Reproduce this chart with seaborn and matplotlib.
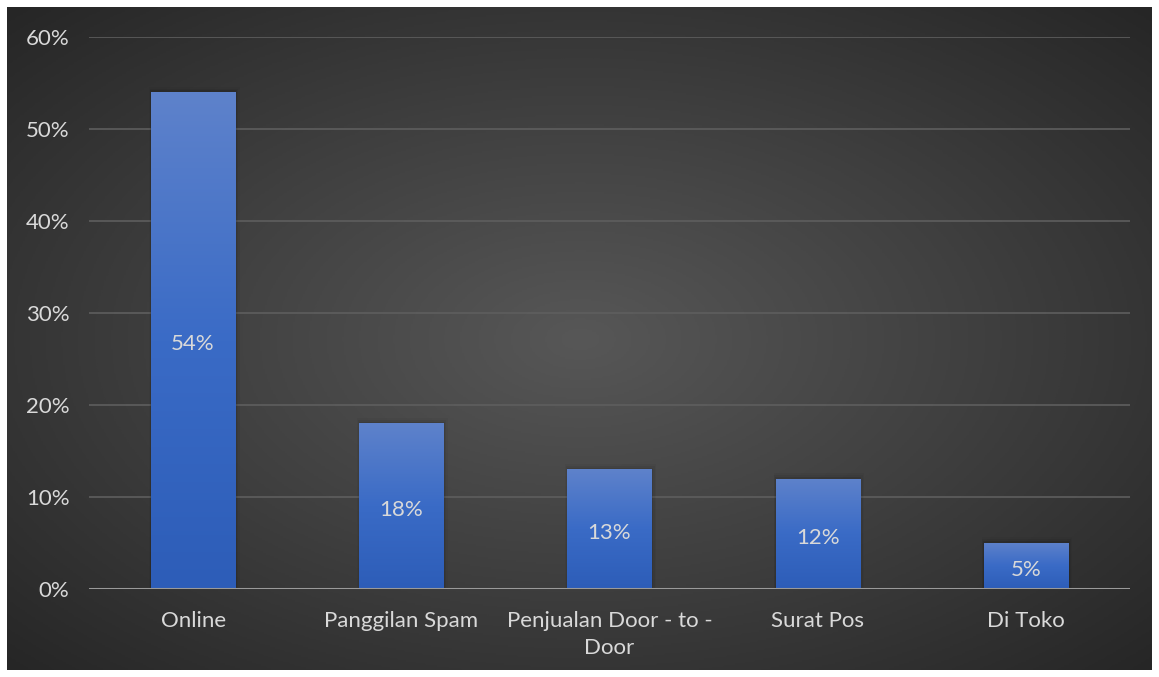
import textwrap
import numpy as np
import pandas as pd
import matplotlib
matplotlib.use("Agg")
import matplotlib.pyplot as plt
import seaborn as sns
from matplotlib.colors import LinearSegmentedColormap

categories = ["Online", "Panggilan Spam", "Penjualan Door - to - Door", "Surat Pos", "Di Toko"]
values = [0.54, 0.18, 0.13, 0.12, 0.05]
yticks = [0.0, 0.1, 0.2, 0.3, 0.4, 0.5, 0.6]
ytick_labels = ["0%", "10%", "20%", "30%", "40%", "50%", "60%"]

sns.set_theme(style="dark")
plt.rcParams["font.family"] = ["Lato", "DejaVu Sans"]

W, H = 1159, 677
fig = plt.figure(figsize=(W / 100, H / 100), dpi=100, facecolor="white")

# background panel with radial gradient
bg = fig.add_axes([7 / W, 7 / H, (W - 14) / W, (H - 14) / H], zorder=0)
yy, xx = np.mgrid[0:400, 0:700]
cx, cy = 350, 200
r = np.sqrt(((xx - cx) / 350) ** 2 + ((yy - cy) / 200) ** 2) / np.sqrt(2)
bg_cmap = LinearSegmentedColormap.from_list("bg", ["#575757", "#3f3f3f", "#262626"])
bg.imshow(r, cmap=bg_cmap, aspect="auto", extent=[0, 1, 0, 1], vmin=0, vmax=1)
bg.set_axis_off()

ax = fig.add_axes([89 / W, (H - 589) / H, (1130 - 89) / W, (589 - 37) / H], zorder=1)
ax.patch.set_alpha(0)

df = pd.DataFrame({"cat": categories, "val": values})
sns.barplot(data=df, x="cat", y="val", ax=ax, color="#4472C4", width=0.405,
            saturation=1, zorder=3, linewidth=0, edgecolor="none")

ax.set_ylim(0, 0.6)
ax.set_xlim(-0.5, len(categories) - 0.5)

# gradient fill for bars
grad = np.linspace(0, 1, 256).reshape(-1, 1)
bar_cmap = LinearSegmentedColormap.from_list("bar", ["#2D5DB8", "#3A6BC6", "#5E82CB"])
for p in list(ax.patches):
    x0, y0 = p.get_x(), p.get_y()
    w, h = p.get_width(), p.get_height()
    # soft shadow
    for k, a in enumerate([0.08, 0.05, 0.03]):
        d = 0.010 * (k + 1)
        ax.add_patch(plt.Rectangle((x0 - d * 0.3, y0), w + d, h + 0.002 * (k + 1),
                                   facecolor="black", alpha=a, zorder=2, lw=0))
    im = ax.imshow(grad, cmap=bar_cmap, aspect="auto", origin="lower",
                   extent=[x0, x0 + w, y0, y0 + h], zorder=3.5)
    im.set_clip_path(p)
    ax.text(x0 + w / 2, y0 + h / 2 - 0.002, f"{round(h * 100)}%", ha="center",
            va="center_baseline", color="#D9D9D9", fontsize=16, zorder=5)

ax.set_xlim(-0.5, len(categories) - 0.5)
ax.set_ylim(0, 0.6)

ax.set_yticks(yticks)
ax.set_yticklabels(ytick_labels)
ax.set_xticks(range(len(categories)))
ax.set_xticklabels([textwrap.fill(c, 21) for c in categories], linespacing=1.45)
ax.tick_params(axis="both", colors="#D9D9D9", labelsize=16, length=0)
ax.tick_params(axis="x", pad=16)
ax.tick_params(axis="y", pad=14)
for lab in ax.get_yticklabels():
    lab.set_color("#D9D9D9")
for lab in ax.get_xticklabels():
    lab.set_color("#D9D9D9")
ax.set_xlabel("")
ax.set_ylabel("")

ax.grid(False)
for yv in yticks[1:]:
    ax.axhline(yv, color="#5E5E5E", lw=1.2, zorder=1)
ax.axhline(0, color="#9A9A9A", lw=2.2, zorder=4)

for s in ax.spines.values():
    s.set_visible(False)

fig.savefig("out.png", dpi=100, facecolor="white")
